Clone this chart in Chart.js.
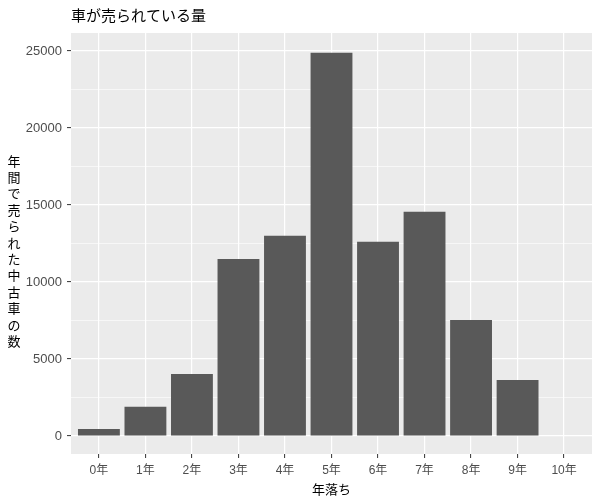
<!DOCTYPE html>
<html>
<head>
<meta charset="utf-8">
<script src="https://cdn.jsdelivr.net/npm/chart.js@4.4.0/dist/chart.umd.min.js"></script>
<style>
  body { margin: 0; background: #ffffff; }
  #wrap { width: 600px; height: 500px; }
</style>
</head>
<body>
<div id="wrap"><canvas id="grafico"></canvas></div>
<script>
// datos
let categorias = ['0年', '1年', '2年', '3年', '4年', '5年', '6年', '7年', '8年', '9年', '10年'];
let ventas = [455, 1900, 4030, 11500, 13000, 24890, 12610, 14560, 7530, 3640, 0];
let ticksY = [0, 5000, 10000, 15000, 20000, 25000];
let titulo = '車が売られている量';
let tituloX = '年落ち';
let tituloY = '年間で売られた中古車の数';

const fuente = '"Liberation Sans", "Noto Sans CJK JP", sans-serif';

// fondo gris del panel + titulo vertical del eje y
const fondoPanel = {
    id: 'fondoPanel',
    beforeDraw(chart) {
        const { ctx, chartArea } = chart;
        ctx.save();
        ctx.fillStyle = '#EBEBEB';
        ctx.fillRect(chartArea.left, chartArea.top, chartArea.right - chartArea.left, chartArea.bottom - chartArea.top);
        ctx.restore();
    },
    afterDraw(chart) {
        const ctx = chart.ctx;
        ctx.save();
        ctx.fillStyle = '#000000';
        ctx.font = '13px ' + fuente;
        ctx.textAlign = 'center';
        ctx.textBaseline = 'middle';
        let chars = tituloY.split('');
        chars.forEach((c, i) => ctx.fillText(c, 14, 162 + i * 16.4));
        ctx.restore();
    }
};

function esMayor(v) {
    return ticksY.indexOf(v) !== -1;
}

const myChart = new Chart(document.getElementById('grafico'), {
    type: 'bar',
    data: {
        datasets: [{
            data: ventas.map((v, i) => ({ x: i, y: v })),
            backgroundColor: '#595959',
            borderWidth: 0,
            categoryPercentage: 1,
            barPercentage: 0.9
        }]
    },
    options: {
        responsive: true,
        maintainAspectRatio: false,
        animation: false,
        layout: { padding: { left: 0, right: 8, top: 0, bottom: 0 } },
        scales: {
            x: {
                type: 'linear',
                offset: false,
                min: -0.6,
                max: categorias.length - 1 + 0.6,
                afterBuildTicks: (scale) => {
                    scale.ticks = categorias.map((_, i) => ({ value: i }));
                },
                afterFit: (scale) => { scale.height = 46; },
                border: { display: false },
                grid: {
                    offset: false,
                    color: '#FFFFFF',
                    lineWidth: 1.2,
                    tickColor: '#333333',
                    tickLength: 4,
                    tickWidth: 1
                },
                ticks: {
                    autoSkip: false,
                    maxRotation: 0,
                    padding: 5,
                    color: '#4D4D4D',
                    font: { family: fuente, size: 12 },
                    callback: (v) => categorias[v]
                },
                title: {
                    display: true,
                    text: tituloX,
                    color: '#000000',
                    padding: { top: 0, bottom: 2 },
                    font: { family: fuente, size: 13 }
                }
            },
            y: {
                min: -1170,
                max: 26170,
                afterBuildTicks: (scale) => {
                    let vals = [];
                    ticksY.forEach((v, i) => {
                        vals.push(v);
                        if (i < ticksY.length - 1) vals.push((v + ticksY[i + 1]) / 2);
                    });
                    scale.ticks = vals.map(v => ({ value: v }));
                },
                afterFit: (scale) => { scale.width = 71; },
                border: { display: false },
                grid: {
                    color: '#FFFFFF',
                    lineWidth: (c) => (c.tick && esMayor(c.tick.value)) ? 1.2 : 0.6,
                    tickColor: (c) => (c.tick && esMayor(c.tick.value)) ? '#333333' : 'rgba(0,0,0,0)',
                    tickLength: 4,
                    tickWidth: 1
                },
                ticks: {
                    padding: 5,
                    color: '#4D4D4D',
                    font: { family: fuente, size: 13 },
                    callback: (v) => esMayor(v) ? String(v) : ''
                }
            }
        },
        plugins: {
            legend: { display: false },
            tooltip: { enabled: false },
            title: {
                display: true,
                text: titulo,
                align: 'start',
                fullSize: false,
                color: '#000000',
                padding: { top: 8, bottom: 7 },
                font: { family: fuente, size: 15, weight: 'normal', lineHeight: 1.2 }
            }
        }
    },
    plugins: [fondoPanel]
});
</script>
</body>
</html>
